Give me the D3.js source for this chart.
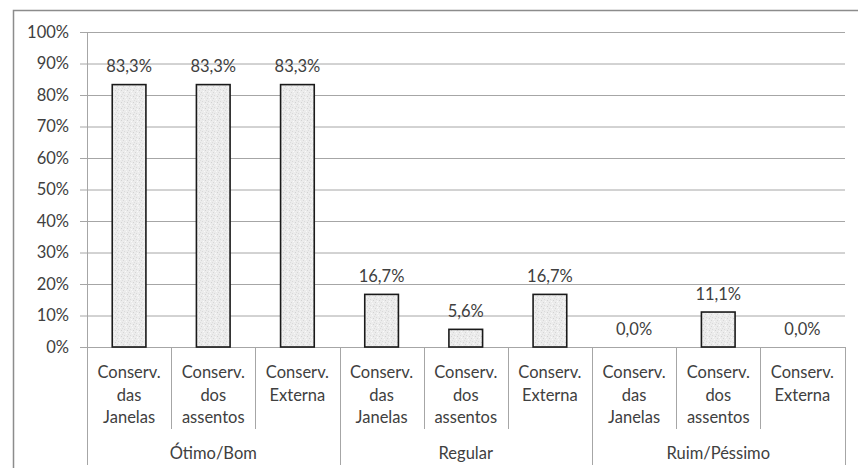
<!DOCTYPE html>
<html>
<head>
<meta charset="utf-8">
<script src="https://cdn.jsdelivr.net/npm/d3@7"></script>
<style>
  body { margin: 0; background: #fff; }
  svg { display: block; font-family: Lato, "Open Sans", sans-serif; }
</style>
</head>
<body>
<svg id="chart" width="858" height="468"></svg>
<script>
const groups = ["Ótimo/Bom", "Regular", "Ruim/Péssimo"];
const items = [
  ["Conserv.", "das", "Janelas"],
  ["Conserv.", "dos", "assentos"],
  ["Conserv.", "Externa"],
];
const values = [
  [83.3, 83.3, 83.3],
  [16.7, 5.6, 16.7],
  [0.0, 11.1, 0.0],
];
const yTicks = [0, 10, 20, 30, 40, 50, 60, 70, 80, 90, 100];

const data = [];
groups.forEach((g, gi) => {
  items.forEach((lines, ii) => {
    data.push({ key: `${gi}-${ii}`, group: g, lines, value: values[gi][ii] });
  });
});

const svg = d3.select("#chart");
const margin = { top: 32, left: 87, right: 13, bottom: 121 };
const width = 858, height = 468;
const innerWidth = width - margin.left - margin.right;
const innerHeight = height - margin.top - margin.bottom;
const fontSize = 16.5;
const textColor = "#404040";

// speckled bar fill
const defs = svg.append("defs");
const pat = defs.append("pattern")
  .attr("id", "speck")
  .attr("width", 6).attr("height", 6)
  .attr("patternUnits", "userSpaceOnUse");
pat.append("rect").attr("width", 6).attr("height", 6).attr("fill", "#ececec");
[[0, 0, "#d6d6d6"], [3, 1, "#f8f8f8"], [1, 3, "#dadada"], [4, 4, "#d2d2d2"], [2, 5, "#fafafa"], [5, 2, "#dddddd"]]
  .forEach(([px, py, c]) => pat.append("rect").attr("x", px).attr("y", py).attr("width", 1).attr("height", 1).attr("fill", c));

// outer frame (only left and top edges are in view)
svg.append("path")
  .attr("d", `M13.5,${height}V10.5H${width}`)
  .attr("fill", "none")
  .attr("stroke", "#8c8c8c")
  .attr("stroke-width", 1.5);

const chart = svg.append("g").attr("transform", `translate(${margin.left},${margin.top})`);

const x = d3.scaleBand()
  .domain(data.map((d) => d.key))
  .range([0, innerWidth - 0.5])
  .paddingInner(0.6)
  .paddingOuter(0.3);
const step = x.step();

const y = d3.scaleLinear().domain([0, 100]).range([innerHeight, 0]);

// gridlines + y ticks
chart.append("g")
  .selectAll("line")
  .data(yTicks)
  .join("line")
  .attr("x1", -7).attr("x2", innerWidth)
  .attr("y1", (d) => y(d) + 0.5).attr("y2", (d) => y(d) + 0.5)
  .attr("stroke", "#a6a6a6");

chart.append("g")
  .selectAll("text")
  .data(yTicks)
  .join("text")
  .attr("x", -18)
  .attr("y", (d) => y(d))
  .attr("dy", "0.35em")
  .attr("text-anchor", "end")
  .attr("font-size", fontSize)
  .attr("fill", textColor)
  .text((d) => d + "%");

// y axis line
chart.append("line")
  .attr("x1", 0.5).attr("x2", 0.5)
  .attr("y1", 0).attr("y2", innerHeight + 118)
  .attr("stroke", "#a6a6a6");

// category separators
const sepX = d3.range(1, data.length + 1).map((i) => i * step);
chart.append("g")
  .selectAll("line")
  .data(sepX)
  .join("line")
  .attr("x1", (d) => Math.round(d) + 0.5).attr("x2", (d) => Math.round(d) + 0.5)
  .attr("y1", innerHeight)
  .attr("y2", (d, i) => ((i + 1) % 3 === 0 ? innerHeight + 118 : innerHeight + 82))
  .attr("stroke", "#a6a6a6");

// bars
chart.append("g")
  .selectAll("rect")
  .data(data)
  .join("rect")
  .attr("x", (d) => x(d.key))
  .attr("y", (d) => y(d.value))
  .attr("width", x.bandwidth())
  .attr("height", (d) => innerHeight - y(d.value))
  .attr("fill", "url(#speck)")
  .attr("stroke", "#1a1a1a")
  .attr("stroke-width", 1.6);

// value labels
chart.append("g")
  .selectAll("text")
  .data(data)
  .join("text")
  .attr("x", (d) => x(d.key) + x.bandwidth() / 2)
  .attr("y", (d) => y(d.value) - 12.5)
  .attr("text-anchor", "middle")
  .attr("font-size", fontSize)
  .attr("fill", textColor)
  .text((d) => d.value.toFixed(1).replace(".", ",") + "%");

// category labels
const cat = chart.append("g")
  .selectAll("text")
  .data(data)
  .join("text")
  .attr("x", (d) => x(d.key) + x.bandwidth() / 2)
  .attr("y", innerHeight + 31)
  .attr("text-anchor", "middle")
  .attr("font-size", fontSize)
  .attr("fill", textColor);
cat.selectAll("tspan")
  .data((d) => d.lines.map((t) => ({ t, cx: x(d.key) + x.bandwidth() / 2 })))
  .join("tspan")
  .attr("x", (d) => d.cx)
  .attr("dy", (d, i) => (i === 0 ? 0 : 22.5))
  .text((d) => d.t);

// group labels
chart.append("g")
  .selectAll("text")
  .data(groups)
  .join("text")
  .attr("x", (d, i) => (i * 3 + 1.5) * step)
  .attr("y", innerHeight + 112)
  .attr("text-anchor", "middle")
  .attr("font-size", fontSize)
  .attr("fill", textColor)
  .text((d) => d);
</script>
</body>
</html>
